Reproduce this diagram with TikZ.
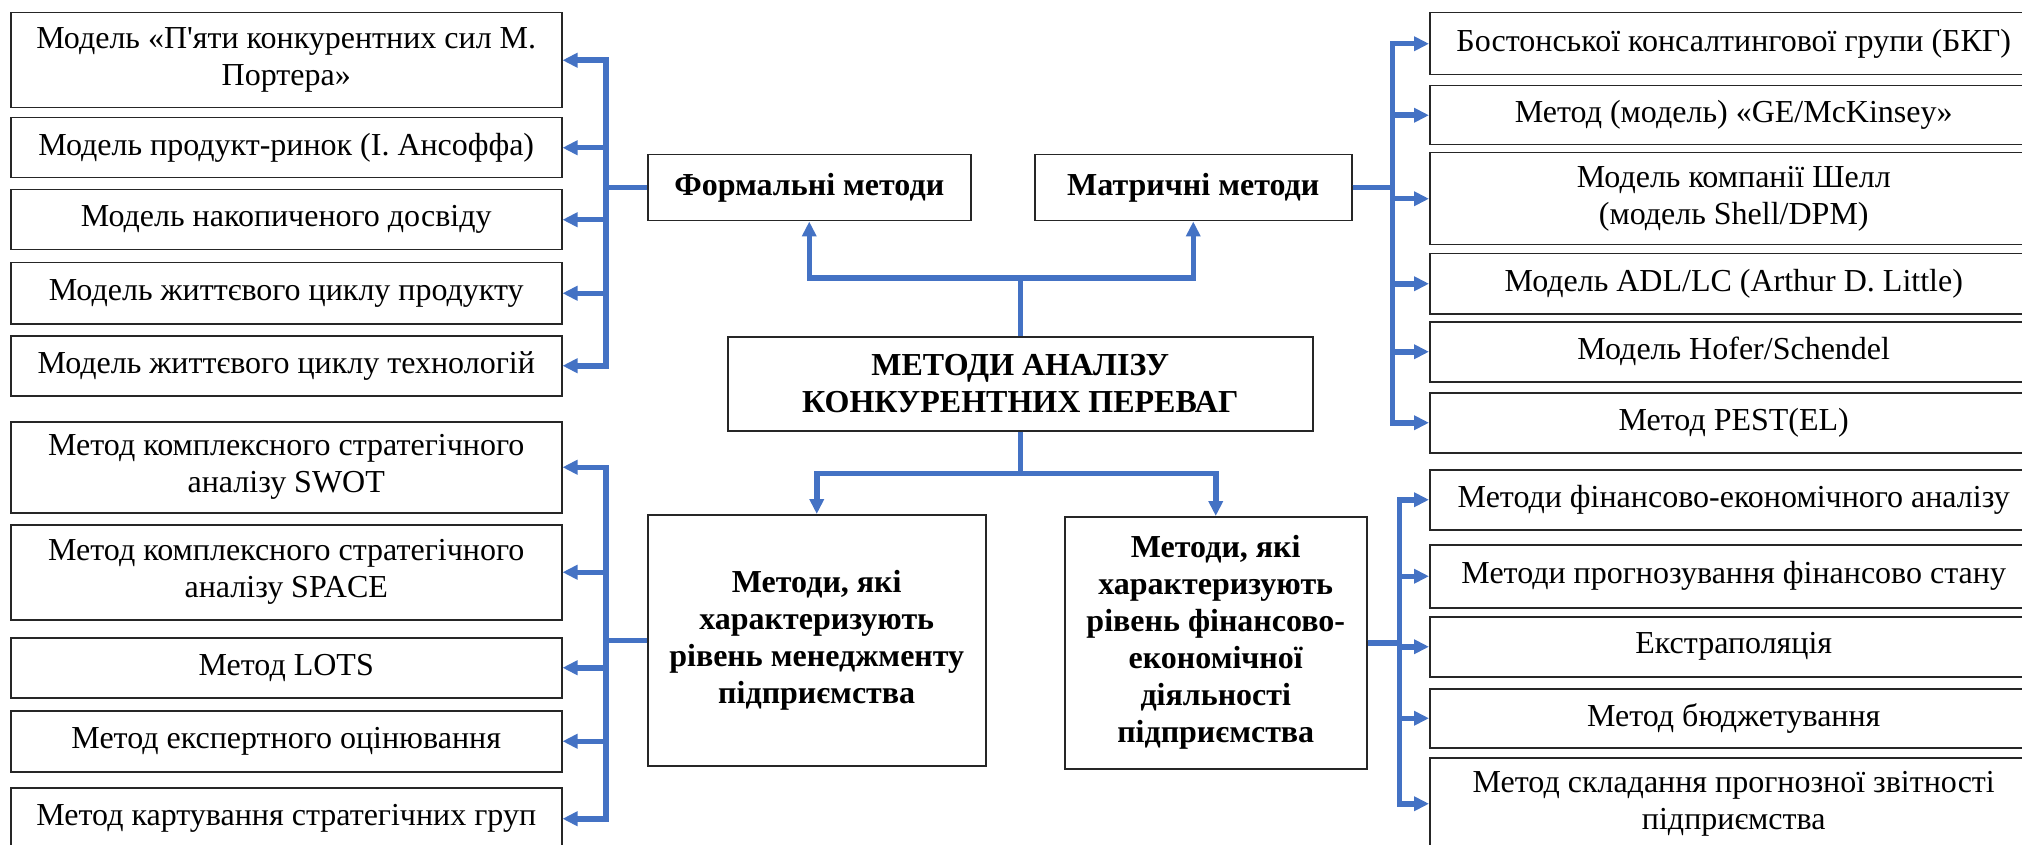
\documentclass[tikz,border=0pt]{standalone}
\usepackage{fontspec}
\setmainfont{LiberationSerif}[Extension=.ttf, UprightFont=*-Regular, BoldFont=*-Bold, ItalicFont=*-Italic, BoldItalicFont=*-BoldItalic]
\usetikzlibrary{arrows.meta}
\definecolor{linkblue}{HTML}{4472C4}
\tikzstyle{leaf} = [rectangle, draw=black!85, line width=1.5pt, anchor=north west, inner sep=0pt, align=center, font=\fontsize{32}{37}\selectfont]
\tikzstyle{hub} = [leaf, font=\bfseries\fontsize{32}{37}\selectfont]
\tikzstyle{link} = [line width=5.5pt, draw=linkblue]
\tikzstyle{arrow} = [link, ->, >={Triangle[length=15pt,width=14pt]}]

\begin{document}
\begin{tikzpicture}[x=1pt, y=-1pt]

\useasboundingbox (0,0) rectangle (2022,845);

% central part
\node [hub, minimum width=585pt, minimum height=94pt] (main) at (727,336) {МЕТОДИ АНАЛІЗУ\\КОНКУРЕНТНИХ ПЕРЕВАГ};
\node [hub, minimum width=323pt, minimum height=66pt] (formal) at (647,154) {Формальні методи};
\node [hub, minimum width=317pt, minimum height=66pt] (matrix) at (1034,154) {Матричні методи};
\node [hub, minimum width=338pt, minimum height=251pt] (mgmt) at (647,514) {Методи, які\\характеризують\\рівень менеджменту\\підприємства};
\node [hub, minimum width=302pt, minimum height=252pt] (finance) at (1064,516) {Методи, які\\характеризують\\рівень фінансово-\\економічної\\діяльності\\підприємства};

% left, top
\node [leaf, minimum width=551pt, minimum height=95pt] (lt1) at (10,12) {Модель «П\textquotesingle{}яти конкурентних сил М.\\Портера»};
\node [leaf, minimum width=551pt, minimum height=60pt] (lt2) at (10,117) {Модель продукт-ринок (І. Ансоффа)};
\node [leaf, minimum width=551pt, minimum height=60pt] (lt3) at (10,189) {Модель накопиченого досвіду};
\node [leaf, minimum width=551pt, minimum height=61pt] (lt4) at (10,262) {Модель життєвого циклу продукту};
\node [leaf, minimum width=551pt, minimum height=60pt] (lt5) at (10,335) {Модель життєвого циклу технологій};

% left, bottom
\node [leaf, minimum width=551pt, minimum height=91pt] (lb1) at (10,421) {Метод комплексного стратегічного\\аналізу SWOT};
\node [leaf, minimum width=551pt, minimum height=95pt] (lb2) at (10,524) {Метод комплексного стратегічного\\аналізу SPACE};
\node [leaf, minimum width=551pt, minimum height=60pt] (lb3) at (10,637) {Метод LOTS};
\node [leaf, minimum width=551pt, minimum height=61pt] (lb4) at (10,710) {Метод експертного оцінювання};
\node [leaf, minimum width=551pt, minimum height=62pt] (lb5) at (10,787) {Метод картування стратегічних груп};

% right, top
\node [leaf, minimum width=608pt, minimum height=62pt] (rt1) at (1429,12) {Бостонської консалтингової групи (БКГ)};
\node [leaf, minimum width=608pt, minimum height=59pt] (rt2) at (1429,85) {Метод (модель) «GE/McKinsey»};
\node [leaf, minimum width=608pt, minimum height=92pt] (rt3) at (1429,152) {Модель компанії Шелл\\(модель Shell/DPM)};
\node [leaf, minimum width=608pt, minimum height=60pt] (rt4) at (1429,253) {Модель ADL/LC (Arthur D. Little)};
\node [leaf, minimum width=608pt, minimum height=60pt] (rt5) at (1429,321) {Модель Hofer/Schendel};
\node [leaf, minimum width=608pt, minimum height=60pt] (rt6) at (1429,392) {Метод PEST(EL)};

% right, bottom
\node [leaf, minimum width=608pt, minimum height=60pt] (rb1) at (1429,469) {Методи фінансово-економічного аналізу};
\node [leaf, minimum width=608pt, minimum height=63pt] (rb2) at (1429,544) {Методи прогнозування фінансово стану};
\node [leaf, minimum width=608pt, minimum height=60pt] (rb3) at (1429,616) {Екстраполяція};
\node [leaf, minimum width=608pt, minimum height=59pt] (rb4) at (1429,688) {Метод бюджетування};
\node [leaf, minimum width=608pt, minimum height=92pt] (rb5) at (1429,757) {Метод складання прогнозної звітності\\підприємства};

% connectors
\draw [link] (main.north) -- ++(0,-58) coordinate (upfork);
\draw [arrow] (upfork) -| (formal.south);
\draw [arrow] (upfork) -| (matrix.south);
\draw [link] (main.south) -- ++(0,42) coordinate (downfork);
\draw [arrow] (downfork) -| (mgmt.north);
\draw [arrow] (downfork) -| (finance.north);

\foreach \n in {lt1,lt2,lt3,lt4,lt5}
  \draw [arrow] (formal.west) -- ++(-41,0) |- (\n.east);
\foreach \n in {lb1,lb2,lb3,lb4,lb5}
  \draw [arrow] (mgmt.west) -- ++(-41,0) |- (\n.east);
\foreach \n in {rt1,rt2,rt3,rt4,rt5,rt6}
  \draw [arrow] (matrix.east) -- ++(40,0) |- (\n.west);
\foreach \n in {rb1,rb2,rb3,rb4,rb5}
  \draw [arrow] (finance.east) -- ++(32,0) |- (\n.west);

\end{tikzpicture}
\end{document}
